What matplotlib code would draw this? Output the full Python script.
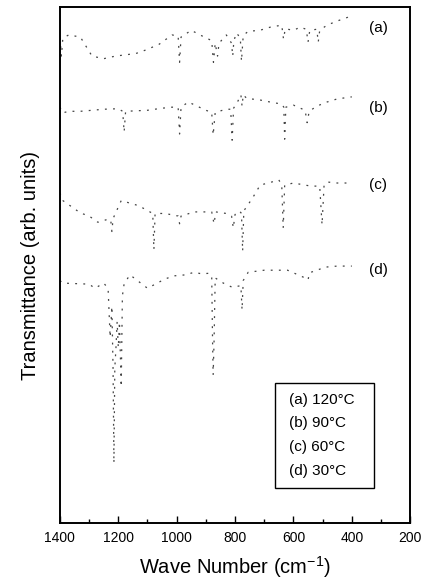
import matplotlib
matplotlib.use("Agg")
import matplotlib.pyplot as plt
from matplotlib.patches import Rectangle
from matplotlib.ticker import MultipleLocator

plt.rcParams["font.family"] = "Liberation Sans"
plt.rcParams["mathtext.fontset"] = "custom"
plt.rcParams["mathtext.rm"] = "Liberation Sans"

# spectra (wave number in cm^-1, transmittance in arb. units)
a_wn = [1400, 1395, 1390, 1370, 1330, 1290, 1250, 1210, 1140, 1105, 1060, 1016, 995, 990, 985,
        950, 920, 880, 874, 868, 860, 855, 830, 812, 808, 804, 795, 782, 778, 772, 755, 715,
        680, 640, 634, 628, 600, 577, 556, 550, 544, 520, 515, 510, 485, 450, 415, 400]
a_t = [94.0, 90.5, 94.0, 94.6, 94.2, 90.5, 90.0, 90.5, 91.0, 91.7, 92.8, 94.6, 94.4, 89.3, 94.2,
       95.5, 94.6, 93.5, 89.3, 93.0, 90.5, 93.0, 94.6, 93.0, 90.5, 93.5, 95.0, 94.0, 89.5, 94.5, 95.3, 95.5,
       96.1, 96.5, 93.8, 95.8, 95.5, 96.1, 95.7, 93.2, 95.5, 95.7, 93.2, 95.5, 96.5, 97.3, 98.0, 98.6]

b_wn = [1400, 1390, 1370, 1330, 1290, 1250, 1200, 1185, 1180, 1175, 1100, 1050, 1016, 995, 990,
        985, 960, 900, 880, 875, 868, 830, 815, 810, 805, 790, 780, 776, 772, 760, 715, 680, 640,
        633, 630, 626, 600, 560, 553, 546, 520, 485, 450, 400]
b_t = [80.6, 79.5, 79.8, 79.8, 80.0, 80.2, 80.3, 79.8, 75.8, 79.8, 80.0, 80.4, 80.6, 80.6, 75.4,
       80.6, 81.6, 80.0, 79.6, 75.2, 79.6, 80.2, 80.2, 74.2, 80.4, 81.8, 83.0, 80.8, 83.0, 82.3, 82.0, 81.6, 81.2,
       80.6, 74.4, 80.6, 81.0, 80.0, 77.6, 79.8, 80.8, 81.6, 82.2, 82.6]

c_wn = [1400, 1390, 1330, 1300, 1270, 1240, 1226, 1222, 1218, 1190, 1130, 1082, 1078, 1074, 1040,
        995, 990, 985, 940, 880, 872, 866, 830, 812, 806, 800, 785, 778, 774, 770, 740, 714, 680,
        650, 640, 635, 630, 600, 560, 540, 510, 502, 495, 485, 450, 400]
c_t = [64.0, 62.5, 60.1, 59.5, 58.3, 58.8, 58.8, 56.5, 59.0, 62.5, 61.5, 60.0, 53.0, 60.0, 60.0,
       59.5, 58.0, 59.5, 60.3, 60.3, 58.0, 60.3, 60.0, 59.5, 57.2, 59.8, 60.5, 60.0, 52.7, 60.5, 63.0, 65.5, 66.0,
       66.5, 65.5, 57.2, 65.5, 65.9, 65.5, 65.3, 65.3, 57.8, 65.5, 66.1, 65.9, 65.9]

d_wn = [1400, 1390, 1300, 1280, 1250, 1235, 1228, 1222, 1218, 1215, 1212, 1208, 1204, 1200, 1196,
        1190, 1186, 1180, 1160, 1100, 1040, 1010, 970, 940, 915, 890, 880, 877, 875, 872, 868,
        840, 810, 780, 776, 772, 755, 700, 670, 620, 560, 550, 545, 490, 450, 400]
d_t = [47.0, 46.5, 46.3, 45.5, 46.5, 45.5, 36.0, 42.0, 30.0, 11.6, 30.0, 34.0, 39.0, 34.0, 39.0,
       26.4, 44.0, 46.4, 48.1, 45.5, 47.3, 47.9, 48.1, 48.6, 48.3, 48.4, 48.0, 35.0, 28.7, 35.0, 47.5,
       46.5, 45.7, 46.0, 41.3, 47.0, 48.6, 49.0, 49.0, 49.0, 47.5, 47.1, 48.5, 49.6, 49.8, 49.8]

curve_tags = ["(a)", "(b)", "(c)", "(d)"]
tag_y = [95.9, 80.4, 65.5, 49.0]
legend_lines = ["(a) 120°C", "(b) 90°C", "(c) 60°C", "(d) 30°C"]

fig = plt.figure(figsize=(4.22, 5.81), dpi=100)
ax = fig.add_axes([0.142, 0.0998, 0.830, 0.888])

# faded scan: sparse broken strokes
for wn, t in [(a_wn, a_t), (b_wn, b_t), (c_wn, c_t), (d_wn, d_t)]:
    ax.plot(wn, t, color="#444444", lw=0.9, ls=(0, (1.5, 5)))

for tag, y in zip(curve_tags, tag_y):
    ax.text(310, y, tag, ha="center", va="center", fontsize=11)

# legend box drawn by hand, the scan has plain text lines in a frame
ax.add_patch(Rectangle((0.614, 0.068), 0.283, 0.203, transform=ax.transAxes,
                       fill=False, lw=1.0, color="black"))
for txt, y in zip(legend_lines, [0.238, 0.194, 0.147, 0.101]):
    ax.text(0.654, y, txt, transform=ax.transAxes, ha="left", va="center", fontsize=11)

ax.set_xlim(1400, 200)
ax.set_ylim(0, 100)
ax.xaxis.set_major_locator(MultipleLocator(200))
ax.xaxis.set_minor_locator(MultipleLocator(100))
ax.tick_params(axis="x", which="major", direction="in", length=5, width=1.0, labelsize=10, pad=6)
ax.tick_params(axis="x", which="minor", direction="in", length=3, width=1.0)
ax.set_yticks([])
for sp in ax.spines.values():
    sp.set_linewidth(1.4)

ax.set_xlabel("Wave Number (cm$^{-1}$)", fontsize=14.5, labelpad=6)
ax.set_ylabel("Transmittance (arb. units)", fontsize=14.5, labelpad=14)

fig.savefig("out.png", dpi=100)
